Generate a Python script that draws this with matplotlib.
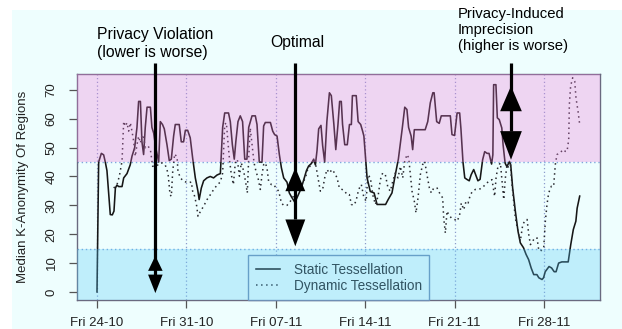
import pandas as pd
import matplotlib
matplotlib.use('Agg')
import matplotlib.pyplot as plt
import matplotlib.dates as mdates
from matplotlib.patches import Rectangle

# data (days after Fri 24-10-2014, median k)
start = pd.Timestamp('2014-10-24')

static_days = [0.0, 0.13, 0.34, 0.52, 0.65, 0.78, 1.04, 1.2, 1.33, 1.44, 1.56, 1.7, 1.96, 2.09, 2.35,
               2.6, 2.74, 2.95, 3.13, 3.26, 3.4, 3.52, 3.65, 3.78, 3.92, 4.18, 4.3, 4.44, 4.6, 4.83,
               4.96, 5.13, 5.27, 5.48, 5.66, 5.82, 6.0, 6.13, 6.44, 6.6, 6.78, 6.92, 7.1, 7.3, 7.49,
               7.7, 7.9, 8.0, 8.17, 8.35, 8.61, 8.87, 9.13, 9.4, 9.66, 9.84, 10.0, 10.3, 10.44, 10.6,
               10.75, 10.87, 11.04, 11.22, 11.4, 11.57, 11.74, 11.88, 12.08, 12.14, 12.4, 12.53, 12.71,
               12.92, 13.05, 13.18, 13.58, 13.76, 13.91, 14.1, 14.28, 14.44, 14.62, 14.88, 15.06, 15.22,
               15.5, 16.0, 16.4, 16.57, 16.77, 16.97, 17.1, 17.23, 17.36, 17.54, 17.67, 17.83, 18.0,
               18.2, 18.35, 18.55, 18.7, 18.87, 19.0, 19.13, 19.23, 19.4, 19.6, 19.77, 19.92, 20.0,
               20.3, 20.45, 20.65, 20.8, 20.9, 21.05, 21.15, 21.4, 21.7, 21.93, 22.6, 22.8, 23.1,
               23.36, 23.6, 23.9, 24.1, 24.27, 24.4, 24.6, 24.72, 24.85, 25.7, 25.9, 26.1, 26.3,
               26.4, 26.6, 26.8, 26.96, 27.67, 27.8, 28.0, 28.2, 28.4, 28.5, 28.66, 28.8, 28.96,
               29.15, 29.3, 29.5, 29.7, 29.83, 30.0, 30.2, 30.36, 30.55, 30.7, 30.9, 31.0, 31.06,
               31.24, 31.35, 31.5, 31.7, 31.8, 31.96, 32.1, 32.3, 32.4, 32.55, 32.76, 32.97, 33.15,
               33.4, 33.6, 33.8, 34.0, 34.2, 34.45, 34.6, 34.85, 34.97, 35.1, 35.4, 35.6, 35.8,
               35.95, 36.15, 36.4, 36.9, 37.1, 37.3, 37.5, 37.6, 37.8]
static_k = [0, 45, 48, 47.5, 45, 42, 26.8, 26.7, 28, 36, 37, 36.5, 36.5, 39.5, 41,
            44, 47, 50, 57, 66, 66, 52, 47.6, 57, 64, 64, 57, 55, 50, 45,
            59, 58, 56.5, 51, 45.5, 46, 54, 58, 58, 52, 52, 56, 56, 53.4, 46.4,
            39.5, 35, 32, 36, 38.5, 39.5, 40, 39.5, 40.5, 41, 57, 62, 62, 59, 51,
            46, 52, 59, 61, 59, 46, 46, 57, 60, 61, 61, 58, 45,
            45, 57.5, 58.7, 58.7, 55.7, 54.5, 54, 47.6, 43, 39.5, 38, 34.3, 33,
            31, 36, 42, 43.6, 44.4, 46, 44, 49, 56.5, 57.7, 50.7, 45, 59,
            69, 68, 58, 49.3, 58, 66, 66, 58, 51, 51, 58, 58, 68,
            68, 59, 58, 55.7, 54, 45, 39.5, 34.8, 34.3, 30.3, 30.3, 32, 34.3,
            40.6, 46, 56.5, 64, 63.2, 57, 54, 49.3, 56.2, 56.2, 59, 65.5, 69,
            69, 59, 58.4, 61, 61, 54.5, 54.2, 62, 62, 56.5, 45, 39.5, 39,
            38.5, 40.6, 42.4, 40, 38.5, 39, 45.8, 48.6, 48, 48, 44.3, 47.5, 71.8,
            71.8, 60.3, 59.7, 56.8, 51, 44.6, 43.4, 45.2, 44, 36, 28, 21, 17,
            15.3, 13, 11.2, 8.3, 6, 6, 4.9, 4.3, 4.9, 7, 8.8, 8.3, 7,
            7, 10, 10.4, 10.4, 16.4, 21.6, 24.5, 29, 33.2]

dynamic_days = [1.31, 1.57, 1.75, 1.96, 2.09, 2.22, 2.35, 2.48, 2.61, 2.74, 2.87, 3.0, 3.13, 3.26,
                3.4, 3.53, 3.66, 3.79, 4.0, 4.18, 4.36, 4.6, 4.83, 5.09, 5.35, 5.56, 5.72, 5.82,
                5.93, 6.08, 6.27, 6.34, 6.53, 6.79, 7.18, 7.39, 7.49, 7.65, 7.81, 7.91, 8.1, 8.35,
                8.62, 8.88, 9.14, 9.4, 9.66, 9.84, 10.0, 10.13, 10.26, 10.39, 10.52, 10.68, 10.83,
                10.99, 11.15, 11.3, 11.49, 11.67, 11.77, 11.88, 12.0, 12.14, 12.3, 12.45, 12.61,
                12.79, 12.92, 13.05, 13.18, 13.31, 13.44, 13.65, 13.84, 14.02, 14.23, 14.44, 14.62,
                14.88, 15.14, 15.5, 16.0, 16.32, 16.53, 16.79, 16.97, 17.15, 17.31, 17.49, 17.67,
                17.83, 18.01, 18.2, 18.4, 18.61, 18.8, 18.98, 19.19, 19.4, 19.58, 19.76, 19.92,
                20.1, 20.28, 20.49, 20.7, 20.88, 21.07, 21.22, 21.41, 21.59, 21.8, 22.01, 22.19,
                22.37, 22.58, 22.79, 22.97, 23.16, 23.36, 23.57, 23.76, 23.94, 24.1, 24.28, 24.41,
                24.54, 24.67, 24.85, 24.98, 25.14, 25.32, 25.5, 25.66, 25.84, 26.03, 26.18, 26.37,
                26.63, 26.89, 27.07, 27.15, 27.28, 27.41, 27.54, 27.75, 28.01, 28.19, 28.38, 28.53,
                28.72, 28.9, 29.06, 29.24, 29.42, 29.63, 29.89, 30.15, 30.41, 30.67, 30.93, 31.07,
                31.14, 31.25, 31.4, 31.59, 31.72, 31.85, 31.98, 32.11, 32.24, 32.37, 32.5, 32.63,
                32.76, 32.97, 33.15, 33.34, 33.49, 33.68, 33.81, 33.94, 34.12, 34.28, 34.46, 34.59,
                34.72, 34.85, 34.98, 35.11, 35.24, 35.37, 35.58, 35.76, 35.89, 36.02, 36.29, 36.47,
                36.68, 36.81, 36.94, 36.99, 37.09, 37.25, 37.41, 37.51, 37.67, 37.8]
dynamic_k = [36, 37.2, 40.1, 45.3, 59.1, 57.4, 58.6, 55.7, 58.6, 55.7, 52.2, 47, 51, 53.9,
             51.6, 54.5, 53.4, 49.9, 50.5, 49.3, 43.5, 44, 43.9, 44.7, 43.9, 41.2, 33.7, 33.1,
             41.8, 47.8, 46.7, 41.8, 39.5, 38.3, 37.8, 38.1, 34.9, 33.1, 29.7, 26.2, 27.9, 29.7,
             32, 33.7, 35.5, 37, 38.1, 41.2, 58, 58.6, 51.6, 45.3, 40.6, 37.2, 44.7,
             45.9, 40.1, 44.7, 41.8, 37.2, 34.3, 46.4, 56.8, 51, 44.7, 41.8, 39.5,
             35.5, 40.6, 44.1, 44.7, 43, 38.3, 37.2, 37.2, 36, 34.9, 30.8, 30,
             30, 31.4, 34, 37, 39.5, 43, 43.9, 45.9, 43.5, 39.5, 34.9, 35.5,
             39.5, 42.4, 41.2, 42.4, 41.2, 39.5, 36, 35.5, 34.9, 33.7, 33.7, 30.3,
             30, 31.4, 35.5, 37.2, 33.1, 31.4, 40.6, 39.5, 33.7, 30.3, 33.1, 38.9,
             41.2, 40.6, 36, 34.9, 38.3, 41.2, 39.5, 43.5, 39.5, 45.3, 47.6, 46.4,
             40.6, 34.9, 31.4, 27.4, 32.6, 40.6, 44.1, 45.3, 40.6, 36, 34.3, 36,
             36, 33.7, 32.6, 25.6, 20.4, 28, 26.8, 25.6, 25.1, 24.5, 26.2, 30.8,
             28.5, 31.4, 30.8, 33.7, 34.9, 35.5, 35.5, 36, 37.2, 38.3, 38.9, 34.9,
             33.1, 39.5, 43.5, 44.7, 38.3, 32, 39.5, 44.1, 43, 44.1, 37.2, 31.4,
             25.6, 21, 17.6, 23.3, 24.5, 25.1, 19.9, 16.4, 17.6, 18.7, 18.7, 14.6,
             14.1, 14.6, 15.2, 24.5, 30.3, 34.3, 36.6, 36.6, 44.1, 47.6, 48.2, 49.3,
             48.7, 48.7, 52.8, 64.9, 71.3, 74.2, 73, 67.2, 62.6, 58]

tick_dates = pd.to_datetime(['2014-10-24', '2014-10-31', '2014-11-07',
                             '2014-11-14', '2014-11-21', '2014-11-28'])
tick_labels = ['Fri 24-10', 'Fri 31-10', 'Fri 07-11', 'Fri 14-11', 'Fri 21-11', 'Fri 28-11']
y_ticks = [0, 10, 20, 30, 40, 50, 60, 70]
low_k, high_k = 15, 45

# annotation arrows: (day, top of shaft, [(tip, base), ...], head half-width in days)
arrows = [
    (4.57, 79.3, [(12.5, 7.3), (-0.4, 6.0)], 0.57),
    (15.53, 79.3, [(43.0, 34.9), (15.8, 25.1)], 0.78),
    (32.42, 79.3, [(71.3, 62.6), (45.8, 55.7)], 0.85),
]

plt.rcParams['font.family'] = ['Liberation Sans', 'DejaVu Sans']
bg = '#eefefe'
ink = '#222222'

fig = plt.figure(figsize=(6.22, 3.29), dpi=100)
fig.patch.set_facecolor('white')
fig.add_artist(Rectangle((12 / 622, 0), 1, 1 - 10 / 329, transform=fig.transFigure,
                         facecolor=bg, edgecolor='none', zorder=0))

ax = fig.add_axes([77 / 622, 1 - 300 / 329, 523 / 622, 226 / 329])
ax.set_facecolor(bg)

t0 = mdates.date2num(start)
t_static = start + pd.to_timedelta(static_days, unit='D')
t_dynamic = start + pd.to_timedelta(dynamic_days, unit='D')

l1, = ax.plot(t_static, static_k, color='#161616', lw=1.15, zorder=2, label='Static Tessellation')
l2, = ax.plot(t_dynamic, dynamic_k, color='#2a2a30', lw=1.1, ls=(0, (1, 2.3)), zorder=2,
              label='Dynamic Tessellation')

for d in tick_dates:
    ax.axvline(d, color='#8c9ccc', lw=0.9, ls=(0, (1, 2)), zorder=1.5)
for k in (low_k, high_k):
    ax.axhline(k, color='#7fa6dc', lw=1.0, ls=(0, (1, 2)), zorder=1.5)

leg = ax.legend(loc='lower left', bbox_to_anchor=(0.327, 0.0), borderaxespad=0, fancybox=False,
                edgecolor='#6f8fb5', facecolor=bg, framealpha=1, fontsize=9.8, handlelength=1.8,
                handletextpad=1.0, labelspacing=0.12, borderpad=0.55)
leg.get_frame().set_linewidth(1.0)
for txt in leg.get_texts():
    txt.set_color(ink)
leg.set_zorder(3)

# translucent bands drawn over lines, like the original
ax.axhspan(high_k, 100, color='#ee78d9', alpha=0.3, lw=0, zorder=4)
ax.axhspan(-10, low_k, color='#55c9f7', alpha=0.3, lw=0, zorder=4)

for day, top, heads, hw in arrows:
    x = t0 + day
    ax.plot([x, x], [top, heads[-1][1]], color='black', lw=2.3, solid_capstyle='butt',
            zorder=6, clip_on=False)
    for tip, base in heads:
        ax.fill([x - hw, x + hw, x], [base, base, tip], color='black', lw=0, zorder=6,
                clip_on=False)

ax.set_xlim(t0 - 1.566, t0 + 39.39)
ax.set_ylim(-2.8, 75.5)
ax.set_xticks(tick_dates)
ax.set_xticklabels(tick_labels)
ax.set_yticks(y_ticks)
for lab in ax.get_yticklabels():
    lab.set_rotation(90)
    lab.set_va('center')
ax.tick_params(axis='x', length=6, width=0.9, color='#555555', pad=6, labelsize=9.5, labelcolor=ink)
ax.tick_params(axis='y', length=6, width=0.9, color='#555555', pad=8, labelsize=9.5, labelcolor=ink)
for s in ax.spines.values():
    s.set_color('#6a6a80')
    s.set_linewidth(1.0)

ax.set_ylabel('Median K-Anonymity Of Regions', fontsize=9.5, color=ink)
ax.yaxis.set_label_coords(-0.092, 0.5)

fig.text(97 / 622, 1 - 43 / 329, 'Privacy Violation\n(lower is worse)', ha='left', va='center',
         fontsize=11.3, color='black', linespacing=1.25)
fig.text(270 / 622, 1 - 43 / 329, 'Optimal', ha='left', va='center', fontsize=11.3, color='black')
fig.text(458 / 622, 1 - 30 / 329, 'Privacy-Induced\nImprecision\n(higher is worse)', ha='left',
         va='center', fontsize=10.7, color='black', linespacing=1.15)

fig.savefig('out.png', dpi=100)
plt.close(fig)
